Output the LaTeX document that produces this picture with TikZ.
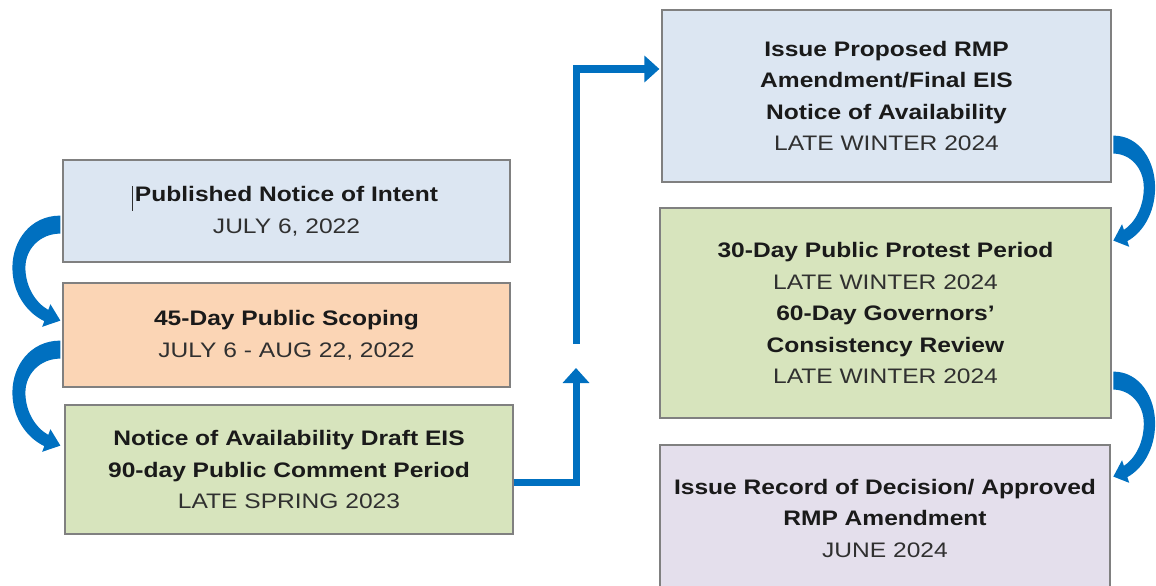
\documentclass[tikz,border=0pt]{standalone}
\usepackage{fontspec}
\setmainfont{Liberation Sans}[FakeStretch=1.17]
\usetikzlibrary{arrows.meta,calc}

\definecolor{fillblue}{HTML}{DCE6F2}
\definecolor{fillorange}{HTML}{FBD5B5}
\definecolor{fillgreen}{HTML}{D7E4BD}
\definecolor{filllilac}{HTML}{E4DFEC}
\definecolor{edgegray}{HTML}{808080}
\definecolor{flowblue}{HTML}{0070C0}
\definecolor{headink}{HTML}{1A1A1A}
\definecolor{dateink}{HTML}{303030}

\newcommand\stagehead[1]{{\bfseries\color{headink}#1}}
\newcommand\stagedate[1]{{\color{dateink}#1}}

% curved hand-off arrow, origin at the lower corner of the source box,
% bulging towards negative x
\newcommand\handoff{%
  \fill[flowblue]
    (-2,-47) .. controls (-32,-47) and (-50,-22) .. (-50,5)
             .. controls (-50,30) and (-36,50) .. (-18.1,58.5)
    -- (-20.2,64.2) -- (-2,58) -- (-12.0,41.6) -- (-14.1,47.3)
             .. controls (-27,40) and (-37,24) .. (-37,5)
             .. controls (-37,-14) and (-22,-29) .. (-2,-29) -- cycle;}

\tikzset{
  stagebox/.style={draw=edgegray, line width=1.2pt, inner sep=0pt, align=center,
    font=\fontsize{21pt}{31.5pt}\selectfont},
  flow/.style={draw=flowblue, line width=7pt, line join=miter,
    -{Triangle[length=15pt,width=26pt]}},
}

\begin{document}
\begin{tikzpicture}[x=1pt, y=-1pt]
\useasboundingbox (0,0) rectangle (1156,586);
\begin{scope}
\clip (0,0) rectangle (1156,586);

% left column
\node[stagebox, fill=fillblue, minimum width=447pt, minimum height=102pt] (pub)
  at (286.5,211) {\stagehead{Published Notice of Intent}\\ \stagedate{JULY 6, 2022}};
\node[stagebox, fill=fillorange, minimum width=447pt, minimum height=104pt] (scope)
  at (286.5,335) {\stagehead{45-Day Public Scoping}\\ \stagedate{JULY 6 - AUG 22, 2022}};
\node[stagebox, fill=fillgreen, minimum width=448pt, minimum height=129pt] (draft)
  at (289,469.5) {\stagehead{Notice of Availability Draft EIS}\\
                  \stagehead{90-day Public Comment Period}\\
                  \stagedate{LATE SPRING 2023}};

% right column
\node[stagebox, fill=fillblue, minimum width=449pt, minimum height=172pt] (prop)
  at (886.5,96) {\stagehead{Issue Proposed RMP}\\ \stagehead{Amendment/Final EIS}\\
                 \stagehead{Notice of Availability}\\ \stagedate{LATE WINTER 2024}};
\node[stagebox, fill=fillgreen, minimum width=451pt, minimum height=210pt] (protest)
  at (885.5,313) {\stagehead{30-Day Public Protest Period}\\ \stagedate{LATE WINTER 2024}\\
                  \stagehead{60-Day Governors’}\\ \stagehead{Consistency Review}\\
                  \stagedate{LATE WINTER 2024}};
\node[stagebox, fill=filllilac, minimum width=450pt, minimum height=146pt] (rod)
  at (885,518) {\stagehead{Issue Record of Decision/ Approved}\\
                \stagehead{RMP Amendment}\\ \stagedate{JUNE 2024}};

% text cursor left in the first box
\draw[dateink, line width=0.8pt] ($(pub.north west)+(70,27)$) -- ++(0,25);

% curved hand-offs down each column
\begin{scope}[shift={(pub.south west)}] \handoff \end{scope}
\begin{scope}[shift={(scope.south west)}] \handoff \end{scope}
\begin{scope}[shift={(prop.south east)}, xscale=-0.87] \handoff \end{scope}
\begin{scope}[shift={(protest.south east)}, xscale=-0.87] \handoff \end{scope}

% broken elbow from the draft EIS to the final EIS
\coordinate (gapLow) at (576,368);
\coordinate (gapHigh) at (576,344);
\draw[flow] ($(draft.east)+(0,12.5)$) -| (gapLow);
\draw[flow] (gapHigh) |- ($(prop.west)+(-2,-27)$);
\end{scope}
\end{tikzpicture}
\end{document}
